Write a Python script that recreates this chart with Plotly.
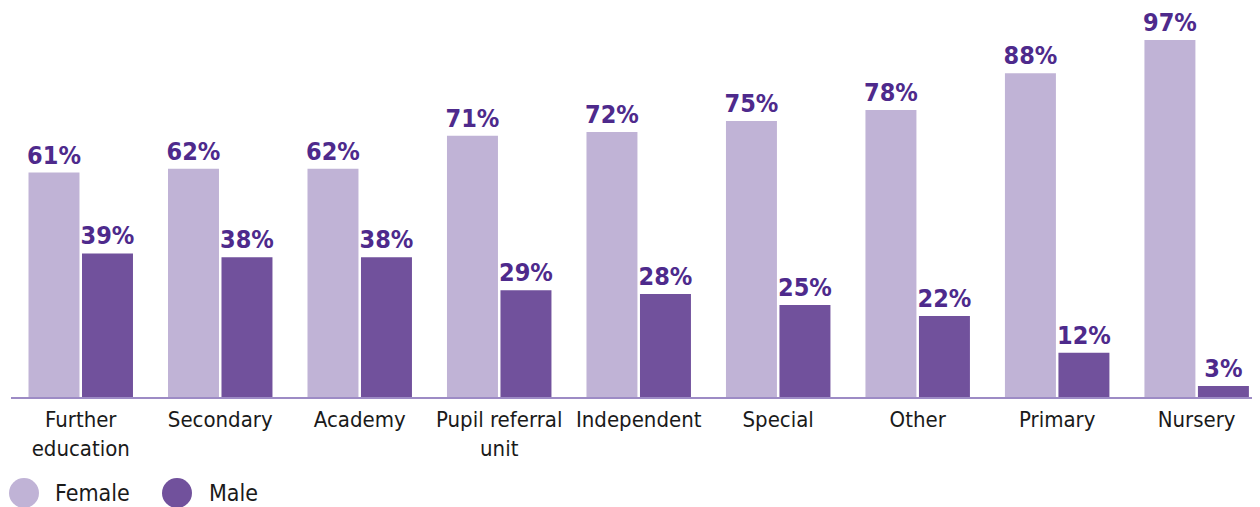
import plotly.graph_objects as go

categories = ["Further<br>education", "Secondary", "Academy", "Pupil referral<br>unit",
              "Independent", "Special", "Other", "Primary", "Nursery"]
female = [61, 62, 62, 71, 72, 75, 78, 88, 97]
male = [39, 38, 38, 29, 28, 25, 22, 12, 3]

FEMALE_C = "#c0b3d6"
MALE_C = "#71519c"
LABEL_C = "#4e2a8c"
FONT = "DejaVu Sans Condensed, Roboto, sans-serif"

# the page body has an 8px default margin; the figure is sized to fit the window
OFF = 8
W, H = 1260 - OFF, 507 - OFF
L, R, T, B = 3, 0, 0, 110

fig = go.Figure()
for name, vals, col in [("Female", female, FEMALE_C), ("Male", male, MALE_C)]:
    fig.add_trace(go.Bar(
        x=categories, y=vals, name=name, marker=dict(color=col, line=dict(width=0)),
        text=[f"{v}%" for v in vals], textposition="outside", constraintext="none",
        textfont=dict(family=FONT, size=25, color=LABEL_C, weight="bold"),
        cliponaxis=False, showlegend=False,
    ))

fig.update_layout(
    width=W, height=H, margin=dict(l=L, r=R, t=T, b=B, autoexpand=False),
    paper_bgcolor="white", plot_bgcolor="white",
    barmode="group", bargap=0.233, bargroupgap=0.047,
    font=dict(family=FONT, size=22, color="#1a1a1a"),
    xaxis=dict(range=[-0.5, 8.454], showgrid=False, zeroline=False, showline=True,
               linecolor="#9d8bc5", linewidth=1.5, ticks="", tickangle=0, automargin=False,
               tickfont=dict(family=FONT, size=22, color="#1a1a1a"), ticklabelstandoff=2,
               fixedrange=True),
    yaxis=dict(range=[0, 105.7], visible=False, fixedrange=True),
)

# Manual legend (circle markers); positions given in window pixels
pw = W - L - R
ph = H - T - B
def px(x):
    return (x - OFF - L) / pw
def py(y):
    return (H - B - (y - OFF)) / ph

legend_items = [("Female", FEMALE_C, 24, 53), ("Male", MALE_C, 177, 207)]
for name, col, cx, tx in legend_items:
    r = 15
    fig.add_shape(type="circle", xref="paper", yref="paper",
                  x0=px(cx - r), x1=px(cx + r), y0=py(493 + r), y1=py(493 - r),
                  fillcolor=col, line=dict(width=0))
    fig.add_annotation(text=name, xref="paper", yref="paper", x=px(tx), y=py(493),
                       xanchor="left", yanchor="middle", showarrow=False,
                       font=dict(family=FONT, size=23, color="#1a1a1a"))

fig.write_html("out.html")
